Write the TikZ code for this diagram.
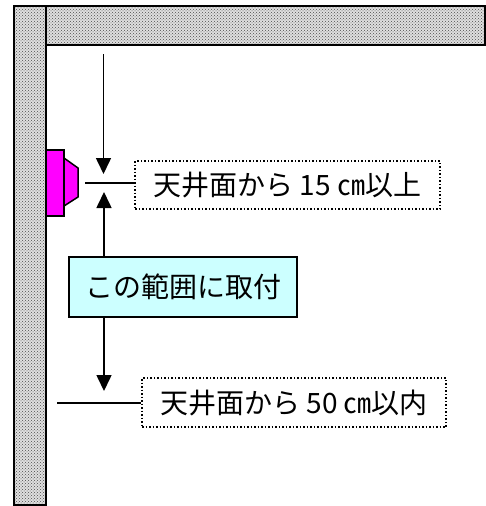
\documentclass[tikz,border=0pt]{standalone}
\usepackage{fontspec}
\newfontfamily\jp{Noto Sans CJK JP}
\usetikzlibrary{arrows.meta,patterns}
\definecolor{pinkdev}{RGB}{255,0,255}
\definecolor{rangecyan}{RGB}{204,255,255}
\tikzset{
  wallbox/.style={draw,line width=1.6pt,preaction={fill=gray!25},pattern=crosshatch dots,pattern color=black!70},
  notebox/.style={draw,dotted,line width=1.5pt,inner sep=0pt,font=\jp\fontsize{28}{28}\selectfont},
  rangebox/.style={draw,line width=1.5pt,fill=rangecyan,inner sep=0pt,font=\jp\fontsize{28}{28}\selectfont},
  dimarrow/.style={line width=1.6pt,-{Triangle[length=16pt,width=15pt]}},
}
\begin{document}
\begin{tikzpicture}[x=1pt,y=-1pt]
\useasboundingbox (0,0) rectangle (486,506);
% walls
\draw[wallbox] (14,6) rectangle (46,505);
\draw[wallbox] (46,6) rectangle (485,45);
% device
\draw[line width=1.5pt,fill=pinkdev] (46,150) rectangle (64,216);
\draw[line width=1.5pt,fill=pinkdev] (64,158)--(78,168)--(78,197)--(64,206)--cycle;
        \coordinate (T) at (103.5, 54) {};
        \coordinate (U) at (103.5, 174) {};
        \coordinate (V) at (104, 192) {};
        \coordinate (W) at (104, 391) {};
        \coordinate (P) at (85, 183) {};
        \coordinate (Q) at (57, 403) {};
\node[notebox,minimum width=305pt,minimum height=48pt] (top) at (287.5,185) {天井面から 15 ㎝以上};
\node[notebox,minimum width=304pt,minimum height=49pt] (bot) at (294,402.5) {天井面から 50 ㎝以内};
\node[rangebox,minimum width=228pt,minimum height=60pt] (mid) at (183,287) {この範囲に取付};
\draw[dimarrow] (T)--(U);
\draw[dimarrow] (mid.north-|V)--(V);
\draw[dimarrow] (mid.south-|W)--(W);
\draw[line width=1.6pt] (P)--(top.west|-P);
\draw[line width=1.6pt] (Q)--(bot.west|-Q);
\end{tikzpicture}
\end{document}
